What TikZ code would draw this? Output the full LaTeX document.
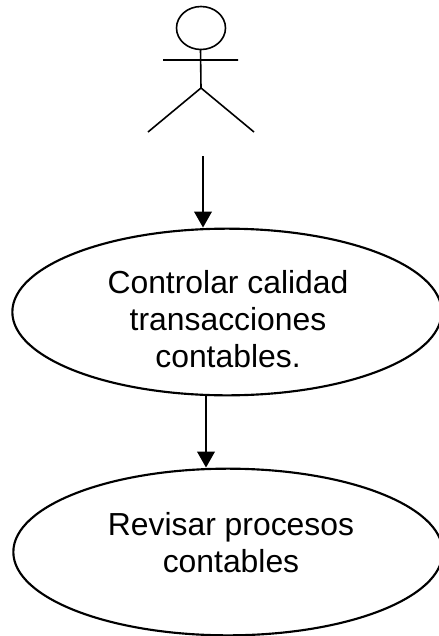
\documentclass[tikz,border=0pt]{standalone}
\usepackage{fontspec}
\setmainfont{Liberation Sans}
\usetikzlibrary{shapes.geometric,arrows.meta}
\tikzset{
  usecase/.style={ellipse,draw,line width=1.6pt,minimum width=322pt,minimum height=125pt,inner sep=0pt},
  casetext/.style={align=center,font=\fontsize{23.9pt}{27.8pt}\selectfont,inner sep=0pt},
  flow/.style={line width=1.9pt,-{Triangle[length=12pt,width=13pt]}},
  actor/.style={line width=1.2pt}
}
\begin{document}
\begin{tikzpicture}[x=0.75pt,y=-0.75pt]
\useasboundingbox (0,0) rectangle (439,636);
\node[usecase] (uc1) at (227,312) {};
\node[usecase] (uc2) at (228,552) {};
\node[casetext] (t1) at (228,319) {Controlar calidad\\transacciones\\contables.};
\node[casetext] (t2) at (231,543) {Revisar procesos\\contables};
\draw[actor] (201,28) ellipse (24.5 and 21.5);
\coordinate (neck) at (200.5,49);
\coordinate (hip) at (201,88);
\coordinate (handl) at (163,60);
\coordinate (handr) at (238,60);
\coordinate (footl) at (148,132);
\coordinate (footr) at (254,132);
\coordinate (start) at (203,156);
\coordinate (mid) at (206,395);
\draw[actor] (neck) -- (hip) (handl) -- (handr) (footl) -- (hip) -- (footr);
\draw[flow] (start) -- (start |- uc1.north);
\draw[flow] (mid) -- (mid |- uc2.north);
\end{tikzpicture}
\end{document}
